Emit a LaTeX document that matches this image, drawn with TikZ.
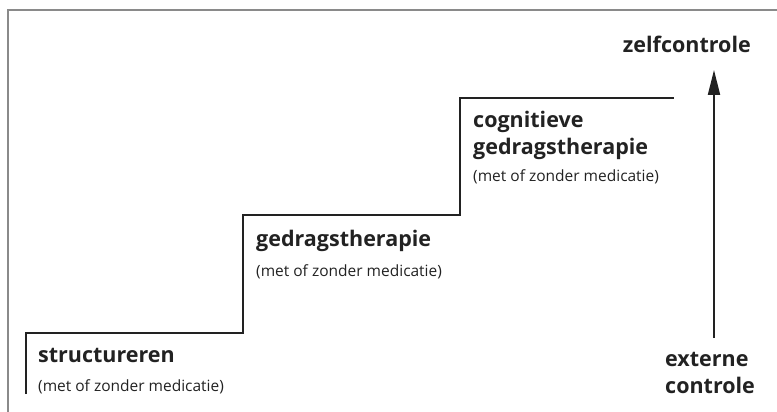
\documentclass[tikz,border=0pt]{standalone}
\usepackage{fontspec}
\setmainfont{Open Sans}
\usetikzlibrary{arrows.meta}
\definecolor{inkgray}{HTML}{222222}
\definecolor{framegray}{HTML}{8A8A8A}
\begin{document}
\begin{tikzpicture}[x=1pt, y=-1pt,
	steptitle/.style={anchor=base west, inner sep=0pt, text=inkgray, font=\fontsize{21.5}{27}\selectfont\bfseries},
	stepnote/.style={anchor=base west, inner sep=0pt, text=inkgray, font=\fontsize{15.5}{18}\selectfont}]
	\useasboundingbox (0,0) rectangle (777,412);
	%frame
	\draw[framegray, line width=1.8pt] (8,412) -- (8,10) -- (777,10);
	
	%stairs
	\coordinate (s0) at (26,394);
	\coordinate (s1) at (243,333);
	\coordinate (s2) at (460,215);
	\coordinate (s3) at (674,98);
	\draw[inkgray, line width=2.6pt] (s0) |- (s1) |- (s2) |- (s3);
	
	\node[steptitle] (structureren) at (38,362.5) {structureren};
	\node[stepnote] (note1) at (38,391) {(met of zonder medicatie)};
	
	\node[steptitle] (gedrag) at (256,246.5) {gedragstherapie};
	\node[stepnote] (note2) at (256,276.5) {(met of zonder medicatie)};
	
	\node[steptitle] (cognitief) at (473,127) {cognitieve};
	\node[steptitle] (cgedrag) at (473,154) {gedragstherapie};
	\node[stepnote] (note3) at (473,181.5) {(met of zonder medicatie)};
	
	%arrow
	\node[steptitle, anchor=base east] (zelf) at (751,53) {zelfcontrole};
	\node[steptitle] (extern) at (665,366.5) {externe};
	\node[steptitle] (controle) at (665,393) {controle};
	\coordinate (arrtop) at (714,70);
	\draw[inkgray, line width=2pt, -{Triangle[length=25pt, width=12pt]}] ([yshift=14pt]extern.north -| arrtop) -- (arrtop);
\end{tikzpicture}
\end{document}
